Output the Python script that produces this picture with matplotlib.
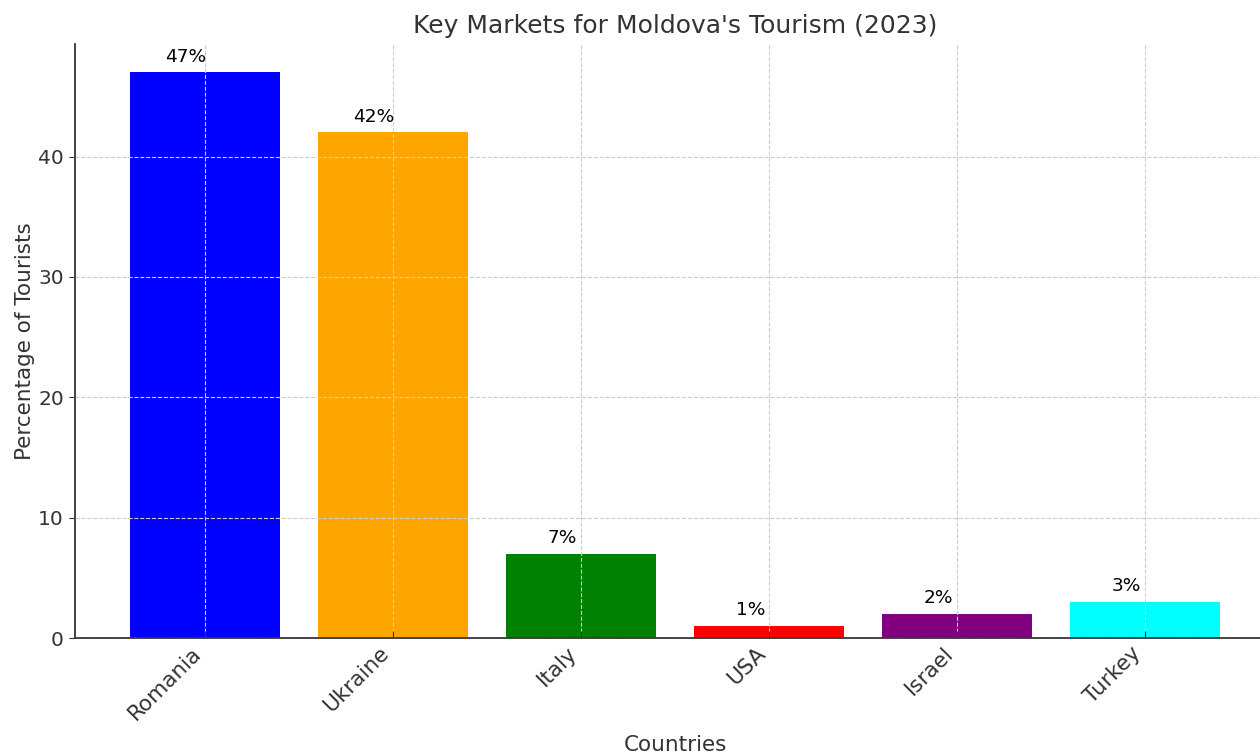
import matplotlib
matplotlib.use("Agg")
import matplotlib.pyplot as plt

countries = ["Romania", "Ukraine", "Italy", "USA", "Israel", "Turkey"]
percentages = [47, 42, 7, 1, 2, 3]
bar_colors = ["blue", "orange", "green", "red", "purple", "cyan"]

W, H = 1260, 753
fig = plt.figure(figsize=(W / 100, H / 100), dpi=100)
ax = fig.add_axes([75 / W, (H - 638) / H, (1275 - 75) / W, (638 - 44) / H])

bars = ax.bar(countries, percentages, color=bar_colors, width=0.8, zorder=1)
for b, v in zip(bars, percentages):
    ax.text(b.get_x() + b.get_width() / 2 - 0.1, v + 0.55, f"{v}%", ha="center", va="bottom",
            fontsize=13.3, color="black")

ax.set_ylim(0, 49.35)
ax.set_xlim(-0.69, 5.69)
ax.grid(True, linestyle="--", color="#cccccc", linewidth=0.8, zorder=2)
ax.set_axisbelow(False)
for s in ["top", "right"]:
    ax.spines[s].set_visible(False)
for s in ["left", "bottom"]:
    ax.spines[s].set_color("#333333")
    ax.spines[s].set_linewidth(1.3)

ax.tick_params(axis="y", labelsize=14.5, colors="#333333", length=4, pad=4)
ax.tick_params(axis="x", labelsize=15.5, colors="#333333", direction="in", length=5)
plt.setp(ax.get_xticklabels(), rotation=45, ha="right")
ax.set_yticks([0, 10, 20, 30, 40])

ax.set_title("Key Markets for Moldova's Tourism (2023)", fontsize=18, color="#333333", pad=8)
ax.set_xlabel("Countries", fontsize=15.5, color="#333333", labelpad=8)
ax.set_ylabel("Percentage of Tourists", fontsize=15.5, color="#333333", labelpad=2)

fig.savefig("out.png", dpi=100)
